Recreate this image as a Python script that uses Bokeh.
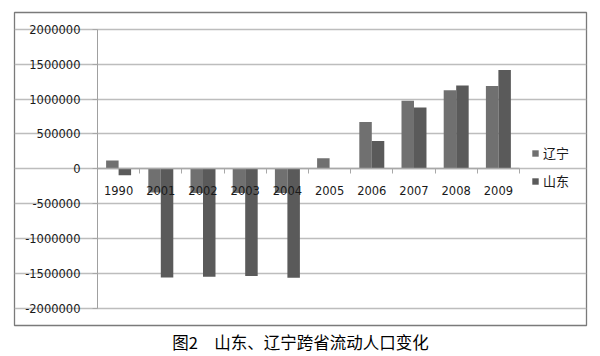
from bokeh.plotting import figure
from bokeh.models import (ColumnDataSource, Range1d, FixedTicker, Title,
                          NumeralTickFormatter, Legend, LegendItem)
from bokeh.transform import dodge
from bokeh.embed import file_html
from bokeh.resources import INLINE

# ---- data ----
years = ["1990", "2001", "2002", "2003", "2004", "2005", "2006", "2007", "2008", "2009"]
liaoning = [120000, -340000, -345000, -345000, -345000, 150000, 670000, 975000, 1125000, 1185000]
shandong = [-90000, -1555000, -1545000, -1535000, -1560000, 10000, 400000, 880000, 1195000, 1415000]
y_ticks = [-2000000, -1500000, -1000000, -500000, 0, 500000, 1000000, 1500000, 2000000]
series_names = ["辽宁", "山东"]
caption = "图2　山东、辽宁跨省流动人口变化"

n = len(years)
idx = list(range(n))
src = ColumnDataSource(dict(pos=idx, ln=liaoning, sd=shandong))

# The figure frame is the outer box of the chart; the plot area sits inside it.
p = figure(width=600, height=356, x_range=Range1d(-2.467, 11.088),
           y_range=Range1d(-2242857, 2238571),
           output_backend="svg", toolbar_location=None, title=None,
           min_border_left=14, min_border_right=14, min_border_top=12, min_border_bottom=30)
p.outline_line_color = "#7a7a7a"
p.outline_line_width = 1.3
p.background_fill_color = "white"
p.border_fill_color = "white"

r1 = p.vbar(x=dodge('pos', -0.148), top='ln', width=0.296, source=src,
            fill_color="#707070", line_color=None)
r2 = p.vbar(x=dodge('pos', 0.148), top='sd', width=0.296, source=src,
            fill_color="#5a5a5a", line_color=None)

tick_font = "DejaVu Sans"
# category axis at y = 0: labels at centres, tick marks at category boundaries
xa = p.xaxis[0]
xa.ticker = FixedTicker(ticks=idx, minor_ticks=[i - 0.5 for i in range(n + 1)])
xa.major_label_overrides = {i: y for i, y in zip(idx, years)}
xa.fixed_location = 0
xa.bounds = (-0.5, n - 0.5)
xa.axis_line_color = "#a8a8a8"
xa.axis_line_width = 1.5
xa.major_tick_line_color = None
xa.major_tick_out = 0
xa.major_tick_in = 0
xa.minor_tick_line_color = "#a8a8a8"
xa.minor_tick_out = 5
xa.minor_tick_in = 0
xa.major_label_standoff = 12
xa.major_label_text_font = tick_font
xa.major_label_text_font_size = "11.5px"
xa.major_label_text_color = "#1a1a1a"

ya = p.yaxis[0]
ya.ticker = FixedTicker(ticks=y_ticks)
ya.formatter = NumeralTickFormatter(format="0")
ya.fixed_location = -0.5
ya.bounds = (y_ticks[0], y_ticks[-1])
ya.axis_line_color = "#a0a0a0"
ya.major_tick_line_color = "#a8a8a8"
ya.major_tick_out = 5
ya.major_tick_in = 0
ya.minor_tick_line_color = None
ya.major_label_standoff = 12
ya.major_label_text_font = tick_font
ya.major_label_text_font_size = "11.5px"
ya.major_label_text_color = "#1a1a1a"

p.xgrid.visible = False
p.ygrid.ticker = FixedTicker(ticks=y_ticks)
p.ygrid.bounds = (-0.5, n - 0.5)
p.ygrid.grid_line_color = "#bdbdbd"
p.ygrid.grid_line_width = 1.5

legend = Legend(items=[LegendItem(label=series_names[0], renderers=[r1]),
                       LegendItem(label=series_names[1], renderers=[r2])],
                location=(517, 135), margin=0, padding=0,
                glyph_width=8, glyph_height=8, label_standoff=4, spacing=9,
                label_height=18,
                label_text_font="Noto Sans CJK SC", label_text_font_size="13px",
                label_text_color="#1a1a1a",
                border_line_color=None, background_fill_alpha=0)
p.add_layout(legend)

cap = Title(text=caption, align="center", text_font="Noto Sans CJK SC",
            text_font_size="16.5px", text_font_style="normal", text_color="#000000",
            standoff=5, offset=0)
p.add_layout(cap, "below")

open("out.html", "w").write(file_html(p, INLINE))
